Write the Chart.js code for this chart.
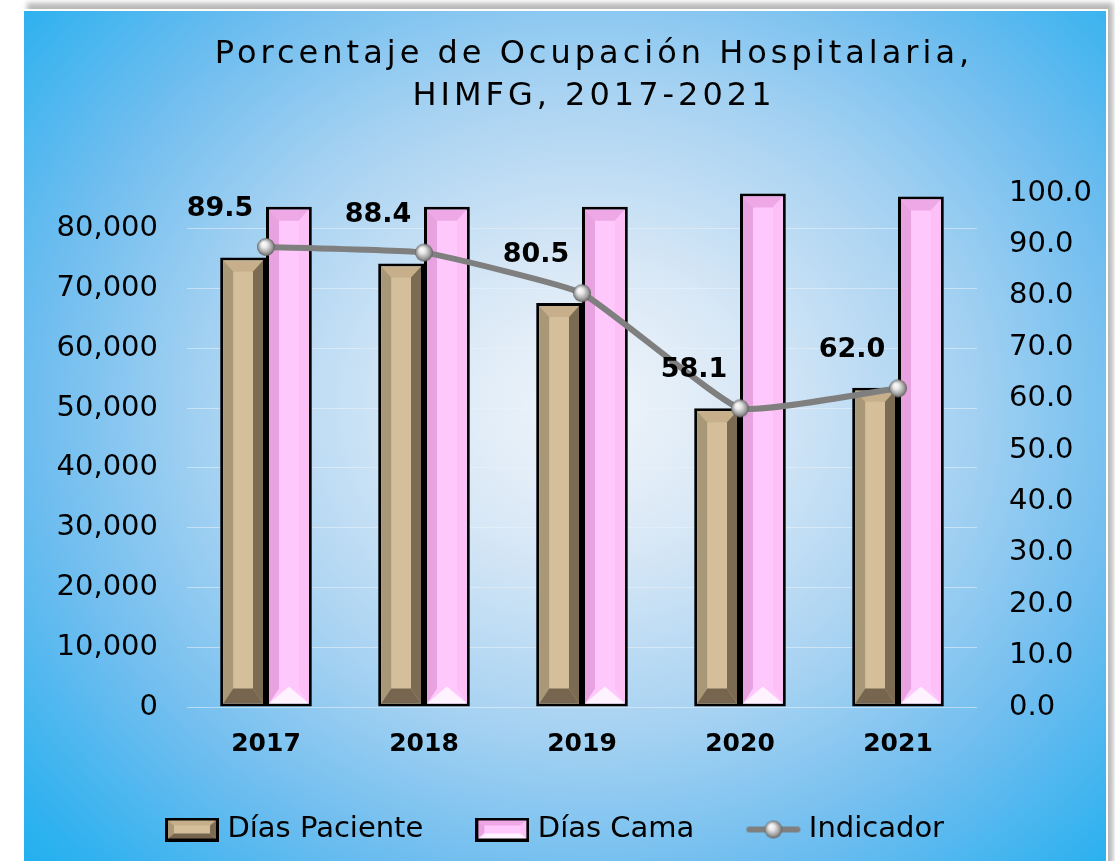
<!DOCTYPE html>
<html>
<head>
<meta charset="utf-8">
<title>Ocupación Hospitalaria HIMFG</title>
<script src="https://cdn.jsdelivr.net/npm/chart.js@4.4.1/dist/chart.umd.min.js"></script>
<style>
  html, body { margin: 0; padding: 0; background: #fff; }
  body { width: 1115px; height: 861px; overflow: hidden; position: relative; }
  #marco {
    position: absolute; left: 24px; top: 11px; width: 1082px; height: 880px;
    background: radial-gradient(ellipse 75% 80% at 52% 45%,
      #f0f5fa 0%, #d9e8f6 20%, #a9d3f2 45%, #6ebdef 68%, #32b2ef 88%, #15aeef 100%);
    box-shadow: 0 0 0 2px #fff, 5px -6px 5px 2px rgba(0,0,0,0.28);
  }
  #caja { position: absolute; left: 0; top: 0; width: 1115px; height: 861px; }
</style>
</head>
<body>
<div id="marco"></div>
<div id="caja"><canvas id="grafica"></canvas></div>

<script>
/* ===== Datos ===== */
const anios        = ['2017', '2018', '2019', '2020', '2021'];
const diasPaciente = [75200, 74200, 67600, 50000, 53400];
const diasCama     = [83700, 83700, 83700, 85900, 85400];
const indicador    = [89.5, 88.4, 80.5, 58.1, 62.0];
const ticksIzq     = [0, 10000, 20000, 30000, 40000, 50000, 60000, 70000, 80000];
const ticksDer     = [0, 10, 20, 30, 40, 50, 60, 70, 80, 90, 100];

const FUENTE = "'DejaVu Sans', sans-serif";

// colores del bisel de cada barra
const biselCafe = { face: '#d5bf9a', top: '#c6af8a', left: '#a99878', right: '#7b6b53', bottom: '#766650', tri: false };
const biselRosa = { face: '#ffc8fc', top: '#eea8e6', left: '#e8a2df', right: '#fcc0f7', bottom: '#fff2ff', tri: true };

/* ===== Helpers de dibujo ===== */
function esfera(r) {
  const c = document.createElement('canvas');
  c.width = c.height = r * 2 + 2;
  const g = c.getContext('2d');
  const cx = r + 1, cy = r + 1;
  const grad = g.createRadialGradient(cx - r * 0.3, cy - r * 0.4, 0, cx, cy, r);
  grad.addColorStop(0, '#ffffff');
  grad.addColorStop(0.35, '#e8e8e8');
  grad.addColorStop(0.75, '#a0a0a0');
  grad.addColorStop(1, '#606060');
  g.beginPath();
  g.arc(cx, cy, r, 0, Math.PI * 2);
  g.fillStyle = grad;
  g.fill();
  return c;
}

function poly(ctx, pts, color) {
  ctx.beginPath();
  ctx.moveTo(pts[0][0], pts[0][1]);
  for (let i = 1; i < pts.length; i++) ctx.lineTo(pts[i][0], pts[i][1]);
  ctx.closePath();
  ctx.fillStyle = color;
  ctx.fill();
}

// bisel dentro del rectangulo (x0,y0)-(x1,y1)
function bisel(ctx, x0, y0, x1, y1, col, b, bt, bb) {
  const cx = (x0 + x1) / 2;
  const ix0 = x0 + b, ix1 = x1 - b, iy0 = y0 + bt, iy1 = y1 - bb;
  poly(ctx, [[x0, y0], [x1, y0], [ix1, iy0], [ix0, iy0]], col.top);
  poly(ctx, [[x0, y0], [ix0, iy0], [ix0, iy1], [x0, y1]], col.left);
  poly(ctx, [[x1, y0], [ix1, iy0], [ix1, iy1], [x1, y1]], col.right);
  if (col.tri) {
    poly(ctx, [[x0, y1], [x1, y1], [cx, y1 - bb - 2]], col.bottom);
  } else {
    poly(ctx, [[x0, y1], [x1, y1], [ix1, iy1], [ix0, iy1]], col.bottom);
  }
}

function cajaLeyenda(col) {
  const c = document.createElement('canvas');
  c.width = 54; c.height = 24;
  const g = c.getContext('2d');
  g.fillStyle = '#000';
  g.fillRect(0, 0, 54, 24);
  g.fillStyle = col.face;
  g.fillRect(3, 3, 48, 18);
  bisel(g, 3, 3, 51, 21, Object.assign({}, col, { tri: false }), 6, 5, 5);
  return c;
}

function lineaLeyenda() {
  const c = document.createElement('canvas');
  c.width = 56; c.height = 22;
  const g = c.getContext('2d');
  g.strokeStyle = '#7f7f7f';
  g.lineWidth = 6;
  g.lineCap = 'round';
  g.beginPath();
  g.moveTo(4, 11); g.lineTo(52, 11);
  g.stroke();
  g.drawImage(esfera(9), 28 - 10, 11 - 10);
  return c;
}

const puntoEsfera = esfera(9);

/* ===== Plugins ===== */
const tituloPlugin = {
  id: 'titulo',
  beforeDraw(chart) {
    const ctx = chart.ctx;
    ctx.save();
    ctx.fillStyle = '#000';
    ctx.font = '32px ' + FUENTE;
    ctx.letterSpacing = '4px';
    ctx.textAlign = 'center';
    ctx.textBaseline = 'middle';
    ctx.fillText('Porcentaje de Ocupación Hospitalaria,', 594, 55);
    ctx.fillText('HIMFG, 2017-2021', 594, 97);
    ctx.restore();
  }
};

const biselPlugin = {
  id: 'bisel',
  afterDatasetDraw(chart, args) {
    const meta = args.meta;
    if (meta.type !== 'bar') return;
    const col = args.index === 0 ? biselCafe : biselRosa;
    const ctx = chart.ctx;
    ctx.save();
    meta.data.forEach(bar => {
      const p = bar.getProps(['x', 'y', 'base', 'width'], true);
      const x0 = p.x - p.width / 2 + 3, x1 = p.x + p.width / 2 - 3;
      const y0 = Math.min(p.y, p.base) + 3, y1 = Math.max(p.y, p.base) - 3;
      bisel(ctx, x0, y0, x1, y1, col, 10, 11, 15);
    });
    ctx.restore();
  }
};

const etiquetasPlugin = {
  id: 'etiquetas',
  afterDatasetsDraw(chart) {
    const ctx = chart.ctx;
    const meta = chart.getDatasetMeta(2);
    ctx.save();
    ctx.font = 'bold 27px ' + FUENTE;
    ctx.fillStyle = '#000';
    ctx.textAlign = 'center';
    ctx.textBaseline = 'middle';
    meta.data.forEach((pt, i) => {
      ctx.fillText(indicador[i].toFixed(1), pt.x - 46, pt.y - 38);
    });
    ctx.restore();
  }
};

/* ===== Grafica ===== */
new Chart(document.getElementById('grafica'), {
  type: 'bar',
  data: {
    labels: anios,
    datasets: [
      {
        label: 'Días Paciente',
        data: diasPaciente,
        yAxisID: 'y',
        backgroundColor: biselCafe.face,
        borderColor: '#000',
        borderWidth: 3,
        borderSkipped: false,
        categoryPercentage: 0.58,
        barPercentage: 1,
        order: 1,
      },
      {
        label: 'Días Cama',
        data: diasCama,
        yAxisID: 'y',
        backgroundColor: biselRosa.face,
        borderColor: '#000',
        borderWidth: 3,
        borderSkipped: false,
        categoryPercentage: 0.58,
        barPercentage: 1,
        order: 1,
      },
      {
        type: 'line',
        label: 'Indicador',
        data: indicador,
        yAxisID: 'y1',
        borderColor: '#7f7f7f',
        borderWidth: 6,
        tension: 0.12,
        pointStyle: puntoEsfera,
        pointRadius: 9,
        order: 0,
      },
    ],
  },
  options: {
    responsive: true,
    maintainAspectRatio: false,
    animation: false,
    layout: { padding: { top: 193, bottom: 7 } },
    plugins: {
      tooltip: { enabled: false },
      legend: {
        position: 'bottom',
        labels: {
          usePointStyle: true,
          pointStyleWidth: 42,
          padding: 58,
          color: '#000',
          font: { family: FUENTE, size: 29 },
          generateLabels: () => [
            { text: 'Días Paciente', pointStyle: cajaLeyenda(biselCafe), fillStyle: biselCafe.face, strokeStyle: '#000', lineWidth: 0, datasetIndex: 0, hidden: false, fontColor: '#000' },
            { text: 'Días Cama', pointStyle: cajaLeyenda(biselRosa), fillStyle: biselRosa.face, strokeStyle: '#000', lineWidth: 0, datasetIndex: 1, hidden: false, fontColor: '#000' },
            { text: 'Indicador', pointStyle: lineaLeyenda(), fillStyle: '#7f7f7f', strokeStyle: '#7f7f7f', lineWidth: 0, datasetIndex: 2, hidden: false, fontColor: '#000' },
          ],
        },
      },
    },
    scales: {
      x: {
        grid: { display: false },
        border: { display: false },
        ticks: { color: '#000', padding: 14, font: { family: FUENTE, size: 25, weight: 'bold' } },
        afterFit: s => { s.height = 50; },
      },
      y: {
        position: 'left',
        min: 0,
        max: 86000,
        afterBuildTicks: s => { s.ticks = ticksIzq.map(v => ({ value: v })); },
        grid: { color: 'rgba(235,243,250,0.55)', lineWidth: 1, drawTicks: false },
        border: { display: false },
        ticks: {
          color: '#000',
          padding: 29,
          font: { family: FUENTE, size: 29 },
          callback: v => v.toLocaleString('en-US'),
        },
        afterFit: s => { s.width = 187; },
      },
      y1: {
        position: 'right',
        min: 0,
        max: 100,
        afterBuildTicks: s => { s.ticks = ticksDer.map(v => ({ value: v })); },
        grid: { display: false },
        border: { display: false },
        ticks: {
          color: '#000',
          padding: 24,
          font: { family: FUENTE, size: 29 },
          callback: v => v.toFixed(1),
        },
        afterFit: s => { s.width = 138; },
      },
    },
  },
  plugins: [tituloPlugin, biselPlugin, etiquetasPlugin],
});
</script>
</body>
</html>
